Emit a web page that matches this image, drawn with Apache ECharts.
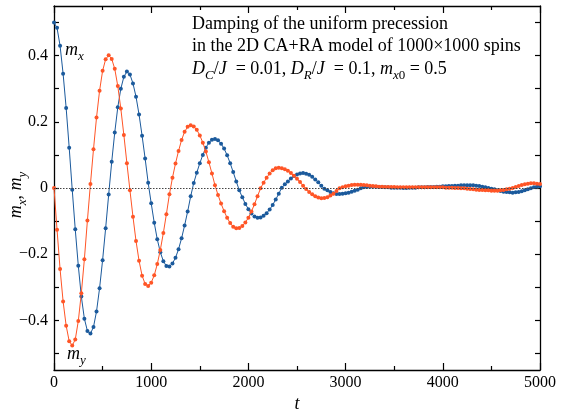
<!DOCTYPE html>
<html>
<head>
<meta charset="utf-8">
<script src="https://cdn.jsdelivr.net/npm/echarts@6/dist/echarts.min.js"></script>
<style>
html,body{margin:0;padding:0;background:#fff;}
#chart{width:564px;height:413px;}
</style>
</head>
<body>
<div id="chart"></div>
<script>
// time grid step (t axis)
const tStep = 31.25;
// m_x values (blue)
const mx = [
 0.500, 0.484, 0.430, 0.345, 0.242, 0.122, -0.005, -0.125, -0.235, -0.328,
 -0.395, -0.432, -0.440, -0.420, -0.373, -0.303, -0.218, -0.122, -0.020, 0.079,
 0.168, 0.244, 0.300, 0.336, 0.352, 0.343, 0.316, 0.276, 0.222, 0.158,
 0.089, 0.016, -0.046, -0.105, -0.155, -0.194, -0.221, -0.236, -0.237, -0.228,
 -0.211, -0.185, -0.152, -0.113, -0.071, -0.025, 0.015, 0.046, 0.075, 0.100,
 0.122, 0.137, 0.146, 0.148, 0.144, 0.134, 0.119, 0.099, 0.075, 0.048,
 0.020, -0.007, -0.028, -0.048, -0.064, -0.077, -0.086, -0.090, -0.089, -0.084,
 -0.076, -0.065, -0.051, -0.035, -0.017, 0.001, 0.011, 0.020, 0.029, 0.036,
 0.041, 0.044, 0.045, 0.043, 0.040, 0.034, 0.026, 0.017, 0.007, -0.002,
 -0.007, -0.012, -0.016, -0.018, -0.018, -0.017, -0.016, -0.014, -0.011, -0.008,
 -0.005, -0.001, 0.002, 0.003, 0.004, 0.004, 0.004, 0.003, 0.003, 0.002,
 0.002, 0.001, 0.001, 0.001, 0.001, 0.000, 0.000, 0.001, 0.001, 0.001,
 0.002, 0.002, 0.002, 0.003, 0.003, 0.003, 0.004, 0.004, 0.005, 0.005,
 0.006, 0.006, 0.007, 0.007, 0.008, 0.008, 0.008, 0.008, 0.008, 0.007,
 0.006, 0.004, 0.002, 0.000, -0.002, -0.004, -0.007, -0.009, -0.011, -0.012,
 -0.013, -0.014, -0.013, -0.012, -0.010, -0.007, -0.004, -0.001, 0.002, 0.004, 0.005
];
// m_y values (orange)
const my = [
 0.000, -0.126, -0.245, -0.343, -0.416, -0.463, -0.476, -0.458, -0.402, -0.318,
 -0.215, -0.098, 0.012, 0.117, 0.213, 0.294, 0.354, 0.389, 0.401, 0.390,
 0.360, 0.308, 0.240, 0.160, 0.075, -0.007, -0.087, -0.160, -0.220, -0.265,
 -0.290, -0.296, -0.286, -0.264, -0.230, -0.187, -0.136, -0.079, -0.019, 0.031,
 0.074, 0.112, 0.145, 0.170, 0.185, 0.190, 0.186, 0.176, 0.159, 0.137,
 0.110, 0.078, 0.044, 0.008, -0.021, -0.047, -0.070, -0.090, -0.106, -0.117,
 -0.122, -0.121, -0.115, -0.104, -0.090, -0.071, -0.049, -0.025, -0.001, 0.016,
 0.031, 0.044, 0.054, 0.060, 0.0615, 0.060, 0.057, 0.052, 0.045, 0.037,
 0.028, 0.018, 0.007, -0.003, -0.012, -0.019, -0.025, -0.029, -0.031, -0.030,
 -0.028, -0.023, -0.017, -0.009, -0.001, 0.002, 0.005, 0.007, 0.009, 0.010,
 0.010, 0.010, 0.009, 0.008, 0.007, 0.006, 0.005, 0.004, 0.004, 0.003,
 0.003, 0.003, 0.003, 0.002, 0.002, 0.002, 0.002, 0.002, 0.002, 0.002,
 0.002, 0.002, 0.002, 0.002, 0.002, 0.002, 0.002, 0.002, 0.002, 0.001,
 0.001, 0.001, 0.000, 0.000, -0.001, -0.001, -0.002, -0.003, -0.004, -0.005,
 -0.006, -0.006, -0.007, -0.007, -0.008, -0.008, -0.008, -0.007, -0.006, -0.004,
 -0.002, 0.000, 0.003, 0.006, 0.009, 0.011, 0.013, 0.014, 0.014, 0.013, 0.012
];
const yTicks = [-0.5, -0.4, -0.3, -0.2, -0.1, 0, 0.1, 0.2, 0.3, 0.4, 0.5];
const yLabels = [-0.4, -0.2, 0, 0.2, 0.4];
const xLabelsInterval = 1000;

const FONT = 'Liberation Serif';
const BLUE = '#1b5a9c';
const ORANGE = '#ff5526';

const toPairs = arr => arr.map((v, i) => [i * tStep, v]);

const chart = echarts.init(document.getElementById('chart'), null, {renderer: 'canvas'});

const axisCommon = {
  type: 'value',
  axisLine: {show: true, onZero: false, lineStyle: {color: '#000', width: 1.3}},
  splitLine: {show: false},
};

const fmtY = v => {
  const r = Math.round(v * 10) / 10;
  if (r === 0) return '0';
  return (r < 0 ? '\u2212' : '') + Math.abs(r).toFixed(1);
};
const fmtX = v => String(Math.round(v));

const LH = 26;
const sub = {fontFamily: FONT, fontSize: 13, fontStyle: 'italic', lineHeight: LH, verticalAlign: 'bottom'};
const subUp = {fontFamily: FONT, fontSize: 13, fontStyle: 'normal', lineHeight: LH, verticalAlign: 'bottom'};
const ital = {fontFamily: FONT, fontSize: 18, fontStyle: 'italic', lineHeight: LH, verticalAlign: 'middle'};
const norm = {fontFamily: FONT, fontSize: 18, fontStyle: 'normal', lineHeight: LH, verticalAlign: 'middle'};

const option = {
  backgroundColor: '#fff',
  animation: false,
  textStyle: {fontFamily: FONT},
  grid: {left: 54, right: 24, top: 6, bottom: 43, containLabel: false},
  xAxis: [
    Object.assign({}, axisCommon, {
      position: 'bottom', min: 0, max: 5000, interval: xLabelsInterval,
      axisTick: {show: true, inside: true, length: 7, lineStyle: {color: '#000', width: 1.2}},
      minorTick: {show: true, splitNumber: 2, length: 4, lineStyle: {color: '#000', width: 1.2}},
      axisLabel: {show: true, margin: 5, formatter: fmtX, color: '#000', fontFamily: FONT, fontSize: 16}
    }),
    Object.assign({}, axisCommon, {
      position: 'top', min: 0, max: 5000, interval: xLabelsInterval,
      axisTick: {show: true, inside: true, length: 7, lineStyle: {color: '#000', width: 1.2}},
      minorTick: {show: true, splitNumber: 2, length: 4, lineStyle: {color: '#000', width: 1.2}},
      axisLabel: {show: false}
    })
  ],
  yAxis: [
    Object.assign({}, axisCommon, {
      position: 'left', min: -0.55, max: 0.55,
      axisTick: {show: true, inside: true, length: 5, customValues: yTicks, lineStyle: {color: '#000', width: 1.2}},
      axisLabel: {show: true, customValues: yLabels, formatter: fmtY, margin: 6, color: '#000', fontFamily: FONT, fontSize: 16}
    }),
    Object.assign({}, axisCommon, {
      position: 'right', min: -0.55, max: 0.55,
      axisTick: {show: true, inside: true, length: 5, customValues: yTicks, lineStyle: {color: '#000', width: 1.2}},
      axisLabel: {show: false}
    })
  ],
  series: [
    {
      name: 'zero', type: 'line', data: [], z: 1, silent: true,
      markLine: {
        silent: true, symbol: 'none', label: {show: false},
        lineStyle: {type: [1.5, 1.5], color: '#444', width: 1},
        data: [{yAxis: 0}]
      }
    },
    {
      name: 'mx', type: 'line', data: toPairs(mx), z: 3,
      showSymbol: true, showAllSymbol: true, symbol: 'circle', symbolSize: 4,
      lineStyle: {color: BLUE, width: 1}, itemStyle: {color: BLUE}
    },
    {
      name: 'my', type: 'line', data: toPairs(my), z: 4,
      showSymbol: true, showAllSymbol: true, symbol: 'circle', symbolSize: 4,
      lineStyle: {color: ORANGE, width: 1}, itemStyle: {color: ORANGE}
    }
  ],
  graphic: [
    {type: 'text', x: 192, y: 24, style: {text: 'Damping of the uniform precession', fontFamily: FONT, fontSize: 18, fill: '#000', verticalAlign: 'middle'}},
    {type: 'text', x: 192, y: 46, style: {text: 'in the 2D CA+RA model of 1000\u00d71000 spins', fontFamily: FONT, fontSize: 18, fill: '#000', verticalAlign: 'middle'}},
    {type: 'text', x: 192, y: 69, style: {
      text: '{i|D}{s|C}{n|/}{i|J}{n|  = 0.01, }{i|D}{s|R}{n|/}{i|J}{n|  = 0.1, }{i|m}{s|x}{u|0}{n| = 0.5}',
      rich: {i: ital, n: norm, s: sub, u: subUp}, fill: '#000', verticalAlign: 'middle'
    }},
    {type: 'text', x: 65, y: 50, style: {
      text: '{i|m}{s|x}', rich: {i: ital, s: sub}, fill: '#000', verticalAlign: 'middle'
    }},
    {type: 'text', x: 67, y: 354, style: {
      text: '{i|m}{s|y}', rich: {i: ital, s: sub}, fill: '#000', verticalAlign: 'middle'
    }},
    {type: 'text', x: 297, y: 404, style: {
      text: 't', fontFamily: FONT, fontStyle: 'italic', fontSize: 18, fill: '#000', align: 'center', verticalAlign: 'middle'
    }},
    {type: 'text', x: 16, y: 195, rotation: Math.PI / 2, style: {
      text: '{i|m}{s|x}{n|, }{i|m}{s|y}', rich: {i: ital, n: norm, s: sub},
      fill: '#000', align: 'center', verticalAlign: 'middle'
    }}
  ]
};

chart.setOption(option);
</script>
</body>
</html>
